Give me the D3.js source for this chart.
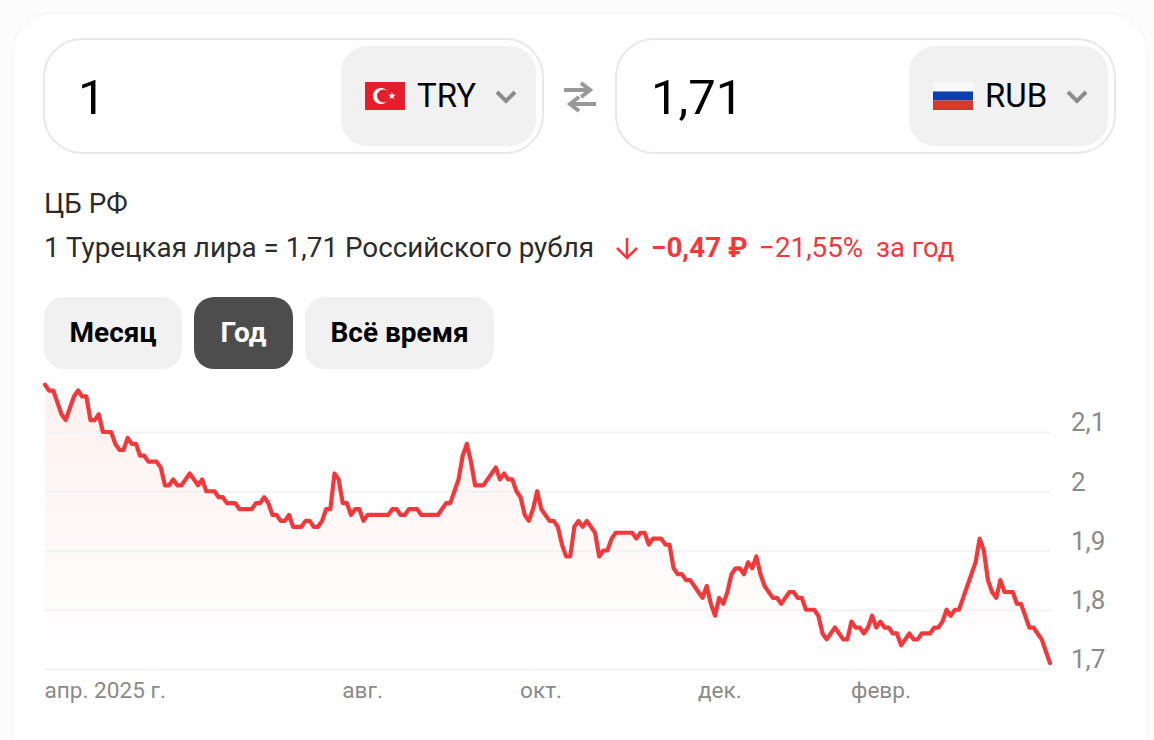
<!DOCTYPE html>
<html>
<head>
<meta charset="utf-8">
<title>TRY / RUB</title>
<script src="https://cdn.jsdelivr.net/npm/d3@7"></script>
<style>
  html, body { margin: 0; padding: 0; background: #fcfcfc; }
  svg { display: block; }
  text { font-family: Roboto, "Noto Sans", sans-serif; }
</style>
</head>
<body>
<svg id="chart" width="1154" height="740"></svg>
<script>
// one value per trading day
const rates = [
  2.18, 2.17, 2.17, 2.15, 2.13, 2.12, 2.14, 2.16, 2.17, 2.16,
  2.16, 2.12, 2.12, 2.13, 2.10, 2.10, 2.10, 2.08, 2.07, 2.07,
  2.09, 2.08, 2.08, 2.06, 2.06, 2.05, 2.05, 2.05, 2.04, 2.01,
  2.01, 2.02, 2.01, 2.01, 2.02, 2.03, 2.02, 2.01, 2.02, 2.00,
  2.00, 2.00, 1.99, 1.99, 1.98, 1.98, 1.98, 1.97, 1.97, 1.97,
  1.97, 1.98, 1.98, 1.99, 1.98, 1.96, 1.96, 1.95, 1.95, 1.96,
  1.94, 1.94, 1.94, 1.95, 1.95, 1.94, 1.94, 1.95, 1.97, 1.97,
  2.03, 2.02, 1.98, 1.98, 1.96, 1.97, 1.97, 1.95, 1.96, 1.96,
  1.96, 1.96, 1.96, 1.96, 1.97, 1.97, 1.96, 1.96, 1.97, 1.97,
  1.97, 1.96, 1.96, 1.96, 1.96, 1.96, 1.97, 1.98, 1.98, 2.00,
  2.02, 2.06, 2.08, 2.05, 2.01, 2.01, 2.01, 2.02, 2.03, 2.04,
  2.02, 2.03, 2.02, 2.02, 2.00, 1.99, 1.96, 1.95, 1.97, 2.00,
  1.97, 1.96, 1.95, 1.95, 1.94, 1.91, 1.89, 1.89, 1.94, 1.95,
  1.94, 1.95, 1.94, 1.93, 1.89, 1.90, 1.90, 1.92, 1.93, 1.93,
  1.93, 1.93, 1.93, 1.92, 1.93, 1.93, 1.91, 1.92, 1.92, 1.92,
  1.91, 1.91, 1.87, 1.86, 1.86, 1.85, 1.85, 1.84, 1.83, 1.82,
  1.84, 1.81, 1.79, 1.82, 1.81, 1.83, 1.86, 1.87, 1.87, 1.86,
  1.88, 1.87, 1.89, 1.86, 1.84, 1.83, 1.82, 1.82, 1.81, 1.82,
  1.83, 1.83, 1.82, 1.82, 1.80, 1.80, 1.80, 1.79, 1.76, 1.75,
  1.76, 1.77, 1.76, 1.75, 1.75, 1.78, 1.77, 1.77, 1.76, 1.77,
  1.79, 1.77, 1.78, 1.77, 1.77, 1.76, 1.76, 1.74, 1.75, 1.76,
  1.75, 1.75, 1.76, 1.76, 1.76, 1.77, 1.77, 1.78, 1.80, 1.79,
  1.80, 1.80, 1.82, 1.84, 1.86, 1.88, 1.92, 1.90, 1.85, 1.83,
  1.82, 1.85, 1.83, 1.83, 1.83, 1.81, 1.81, 1.79, 1.77, 1.77,
  1.76, 1.75, 1.73, 1.71
];
const yTicks = [1.7, 1.8, 1.9, 2.0, 2.1];
const xTickIndex = [0, 72, 115, 158, 195];
const xTickLabels = ["апр. 2025 г.", "авг.", "окт.", "дек.", "февр."];
const periods = ["Месяц", "Год", "Всё время"];

const red = "#f2383a";
const svg = d3.select("#chart");

// card
svg.append("rect").attr("x", 13).attr("y", 13).attr("width", 1134).attr("height", 780)
  .attr("rx", 40).attr("fill", "#fff").attr("stroke", "#f8f8f8").attr("stroke-width", 2);

// converter boxes
function converter(boxX, boxW, pickX, pickW, amount, code, amountX, flagX, chevronX) {
  const g = svg.append("g");
  g.append("rect").attr("x", boxX).attr("y", 39).attr("width", boxW).attr("height", 114)
    .attr("rx", 38).attr("fill", "#fff").attr("stroke", "#e8e8e8").attr("stroke-width", 2);
  g.append("rect").attr("x", pickX).attr("y", 46).attr("width", pickW).attr("height", 100)
    .attr("rx", 26).attr("fill", "#f1f1f1");
  g.append("text").attr("x", amountX).attr("y", 114).attr("font-size", 49)
    .attr("font-weight", 400).attr("fill", "#000").text(amount);
  g.append("text").attr("x", flagX + 52).attr("y", 107).attr("font-size", 33)
    .attr("fill", "#000").text(code);
  g.append("path")
    .attr("d", `M${chevronX},92 l9,9 l9,-9`)
    .attr("fill", "none").attr("stroke", "#8c8c8c").attr("stroke-width", 4);
  return g;
}

const left = converter(44, 499, 341, 195, "1", "TRY", 78, 365, 497);
left.append("rect").attr("x", 365).attr("y", 82).attr("width", 40).attr("height", 28).attr("fill", "#e41e2b");
left.append("circle").attr("cx", 381).attr("cy", 96).attr("r", 8).attr("fill", "#fff");
left.append("circle").attr("cx", 383.5).attr("cy", 96).attr("r", 6.5).attr("fill", "#e41e2b");
left.append("path").attr("d", d3.symbol(d3.symbolStar, 18)).attr("transform", "translate(392,96)").attr("fill", "#fff");

const right = converter(616, 499, 909, 199, "1,71", "RUB", 651, 933, 1068);
right.append("rect").attr("x", 933).attr("y", 82).attr("width", 40).attr("height", 9.5).attr("fill", "#f7f7f7");
right.append("rect").attr("x", 933).attr("y", 91.5).attr("width", 40).attr("height", 9).attr("fill", "#0b3fb0");
right.append("rect").attr("x", 933).attr("y", 100.5).attr("width", 40).attr("height", 9.5).attr("fill", "#d8382c");

// swap icon
svg.append("path")
  .attr("d", "M564,90 H590 M581,83 L590,90 L581,97 M596,104 H570 M579,97 L570,104 L579,111")
  .attr("fill", "none").attr("stroke", "#999").attr("stroke-width", 4);

// source and rate line
svg.append("text").attr("x", 44).attr("y", 213).attr("font-size", 27.8).attr("fill", "#2b2b2b").text("ЦБ РФ");
svg.append("text").attr("x", 44).attr("y", 257).attr("font-size", 27.8).attr("fill", "#2b2b2b")
  .text("1 Турецкая лира = 1,71 Российского рубля");
svg.append("path")
  .attr("d", "M627,238 V258 M617,248 L627,258 L637,248")
  .attr("fill", "none").attr("stroke", red).attr("stroke-width", 2.6);
svg.append("text").attr("x", 651).attr("y", 257).attr("font-size", 27.8).attr("font-weight", 700)
  .attr("fill", red).text("−0,47 ₽");
svg.append("text").attr("x", 759).attr("y", 257).attr("font-size", 27.8).attr("fill", red).text("−21,55%");
svg.append("text").attr("x", 876).attr("y", 257).attr("font-size", 27.5).attr("fill", red).text("за год");

// period buttons
const buttonX = d3.scaleOrdinal().domain(periods).range([44, 194, 305]);
const buttonW = d3.scaleOrdinal().domain(periods).range([138, 99, 189]);
const buttons = svg.selectAll(".period").data(periods).enter().append("g").attr("class", "period");
buttons.append("rect")
  .attr("x", d => buttonX(d)).attr("y", 297)
  .attr("width", d => buttonW(d)).attr("height", 72).attr("rx", 20)
  .attr("fill", d => d === "Год" ? "#4d4d4d" : "#f1f1f1");
buttons.append("text")
  .attr("x", d => buttonX(d) + buttonW(d) / 2).attr("y", 342)
  .attr("text-anchor", "middle").attr("font-size", 28).attr("font-weight", 700)
  .attr("fill", d => d === "Год" ? "#fff" : "#000").text(d => d);

// chart
const x = d3.scaleLinear().domain([0, rates.length - 1]).range([45, 1050]);
const y = d3.scaleLinear().domain([1.7, 2.1]).range([669, 432]);

const defs = svg.append("defs");
const grad = defs.append("linearGradient").attr("id", "fade")
  .attr("gradientUnits", "userSpaceOnUse")
  .attr("x1", 0).attr("x2", 0).attr("y1", y(2.18)).attr("y2", y(1.7));
grad.append("stop").attr("offset", 0).attr("stop-color", "#fdf1ef");
grad.append("stop").attr("offset", 1).attr("stop-color", "#ffffff");

svg.append("path").datum(rates)
  .attr("fill", "url(#fade)")
  .attr("d", d3.area().x((d, i) => x(i)).y0(y(1.7)).y1(d => y(d)));

const yAxis = svg.append("g")
  .attr("transform", "translate(1050,0)")
  .call(d3.axisRight(y).tickValues(yTicks).tickSize(0).tickPadding(21)
    .tickFormat(d => String(d).replace(".", ",")));
yAxis.select(".domain").remove();
yAxis.selectAll(".tick").append("line")
  .attr("x1", -1005).attr("x2", 0)
  .attr("stroke", "#f3f3f3").attr("stroke-width", 2);
yAxis.selectAll("text")
  .attr("dy", -8).attr("font-size", 26).attr("fill", "#8a8a8a")
  .style("dominant-baseline", "middle");

const xAxis = svg.append("g")
  .attr("transform", "translate(-1,669)")
  .call(d3.axisBottom(x).tickValues(xTickIndex).tickSize(0).tickPadding(13)
    .tickFormat((d, i) => xTickLabels[i]));
xAxis.select(".domain").remove();
xAxis.selectAll("text")
  .attr("text-anchor", "start").attr("font-size", 22.6).attr("fill", "#8a8a8a");

svg.append("path").datum(rates)
  .attr("fill", "none").attr("stroke", red).attr("stroke-width", 4.2)
  .attr("stroke-linejoin", "round").attr("stroke-linecap", "round")
  .attr("d", d3.line().x((d, i) => x(i)).y(d => y(d)));
</script>
</body>
</html>
